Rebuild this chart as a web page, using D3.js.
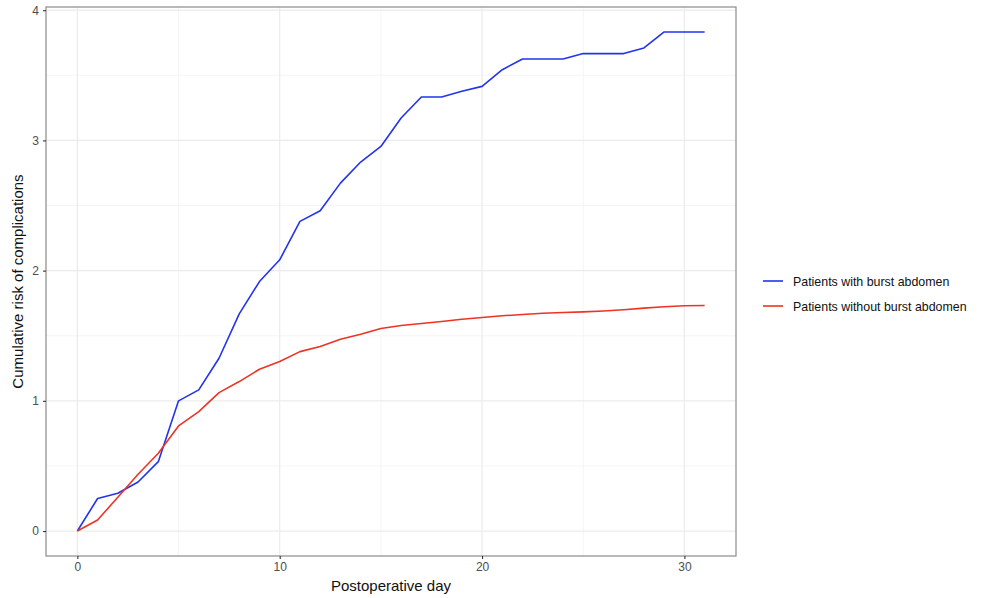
<!DOCTYPE html>
<html>
<head>
<meta charset="utf-8">
<script src="https://cdn.jsdelivr.net/npm/d3@7"></script>
<style>
  body { margin: 0; background: #fff; }
  text { font-family: "Liberation Sans", Arial, sans-serif; }
</style>
</head>
<body>
<div id="chart"></div>
<script>
const days = d3.range(0, 32);
const burst = [0, 0.25, 0.29, 0.377, 0.533, 1.0, 1.084, 1.327, 1.668, 1.916, 2.083,
  2.378, 2.46, 2.672, 2.834, 2.954, 3.172, 3.333, 3.333, 3.377, 3.415,
  3.543, 3.625, 3.625, 3.625, 3.667, 3.667, 3.667, 3.71, 3.833, 3.833, 3.833];
const noBurst = [0, 0.085, 0.26, 0.436, 0.597, 0.807, 0.917, 1.063, 1.148, 1.243, 1.302,
  1.378, 1.417, 1.473, 1.512, 1.555, 1.578, 1.594, 1.609, 1.627, 1.64,
  1.653, 1.663, 1.673, 1.678, 1.683, 1.69, 1.70, 1.712, 1.722, 1.73, 1.732];
const seriesNames = ["Patients with burst abdomen", "Patients without burst abdomen"];
const seriesColors = ["#2233ee", "#ee3322"];
const xTicks = [0, 10, 20, 30];
const yTicks = [0, 1, 2, 3, 4];

const width = 986, height = 598;
const panel = { left: 46, right: 736, top: 7, bottom: 556 };

const svg = d3.select("#chart").append("svg")
  .attr("width", width).attr("height", height);

const x = d3.scaleLinear().domain([-1.55, 32.55]).range([panel.left, panel.right]);
const y = d3.scaleLinear().domain([-0.1917, 4.0247]).range([panel.bottom, panel.top]);

// grid
const grid = svg.append("g");
[5, 15, 25].forEach(v => grid.append("line")
  .attr("x1", x(v)).attr("x2", x(v)).attr("y1", panel.top).attr("y2", panel.bottom)
  .attr("stroke", "#f3f3f3").attr("stroke-width", 0.8));
[0.5, 1.5, 2.5, 3.5].forEach(v => grid.append("line")
  .attr("x1", panel.left).attr("x2", panel.right).attr("y1", y(v)).attr("y2", y(v))
  .attr("stroke", "#f3f3f3").attr("stroke-width", 0.8));
xTicks.forEach(v => grid.append("line")
  .attr("x1", x(v)).attr("x2", x(v)).attr("y1", panel.top).attr("y2", panel.bottom)
  .attr("stroke", "#ebebeb").attr("stroke-width", 1.2));
yTicks.forEach(v => grid.append("line")
  .attr("x1", panel.left).attr("x2", panel.right).attr("y1", y(v)).attr("y2", y(v))
  .attr("stroke", "#ebebeb").attr("stroke-width", 1.2));

// lines
const line = d3.line().x((d, i) => x(days[i])).y(d => y(d));
[burst, noBurst].forEach((s, k) => {
  svg.append("path").datum(s)
    .attr("fill", "none")
    .attr("stroke", seriesColors[k])
    .attr("stroke-width", 1.6)
    .attr("stroke-linejoin", "round")
    .attr("d", line);
});

// border
svg.append("rect")
  .attr("x", panel.left).attr("y", panel.top)
  .attr("width", panel.right - panel.left).attr("height", panel.bottom - panel.top)
  .attr("fill", "none").attr("stroke", "#8a8a8a").attr("stroke-width", 1.2);

// axes
const xAxis = svg.append("g")
  .attr("transform", `translate(0,${panel.bottom})`)
  .call(d3.axisBottom(x).tickValues(xTicks).tickSize(3).tickPadding(3).tickFormat(d3.format("d")));
const yAxis = svg.append("g")
  .attr("transform", `translate(${panel.left},0)`)
  .call(d3.axisLeft(y).tickValues(yTicks).tickSize(3).tickPadding(4).tickFormat(d3.format("d")));
[xAxis, yAxis].forEach(a => {
  a.select(".domain").remove();
  a.selectAll(".tick line").attr("stroke", "#333").attr("stroke-width", 1.1);
  a.selectAll(".tick text").attr("fill", "#4d4d4d").style("font-size", "12px")
    .style("font-family", "'Liberation Sans', Arial, sans-serif");
});

// titles
svg.append("text")
  .attr("x", (panel.left + panel.right) / 2).attr("y", 591)
  .attr("text-anchor", "middle").style("font-size", "15px").attr("fill", "#111")
  .text("Postoperative day");
svg.append("text")
  .attr("transform", `translate(23,${(panel.top + panel.bottom) / 2}) rotate(-90)`)
  .attr("text-anchor", "middle").style("font-size", "15px").attr("fill", "#111")
  .text("Cumulative risk of complications");

// legend
const legend = svg.append("g").attr("transform", "translate(763,281)");
seriesNames.forEach((name, k) => {
  const g = legend.append("g").attr("transform", `translate(0,${k * 25})`);
  g.append("line").attr("x1", 0).attr("x2", 20).attr("y1", 0).attr("y2", 0)
    .attr("stroke", seriesColors[k]).attr("stroke-width", 1.6);
  g.append("text").attr("x", 30).attr("y", 4.5)
    .style("font-size", "12.4px").attr("fill", "#111").text(name);
});
</script>
</body>
</html>
